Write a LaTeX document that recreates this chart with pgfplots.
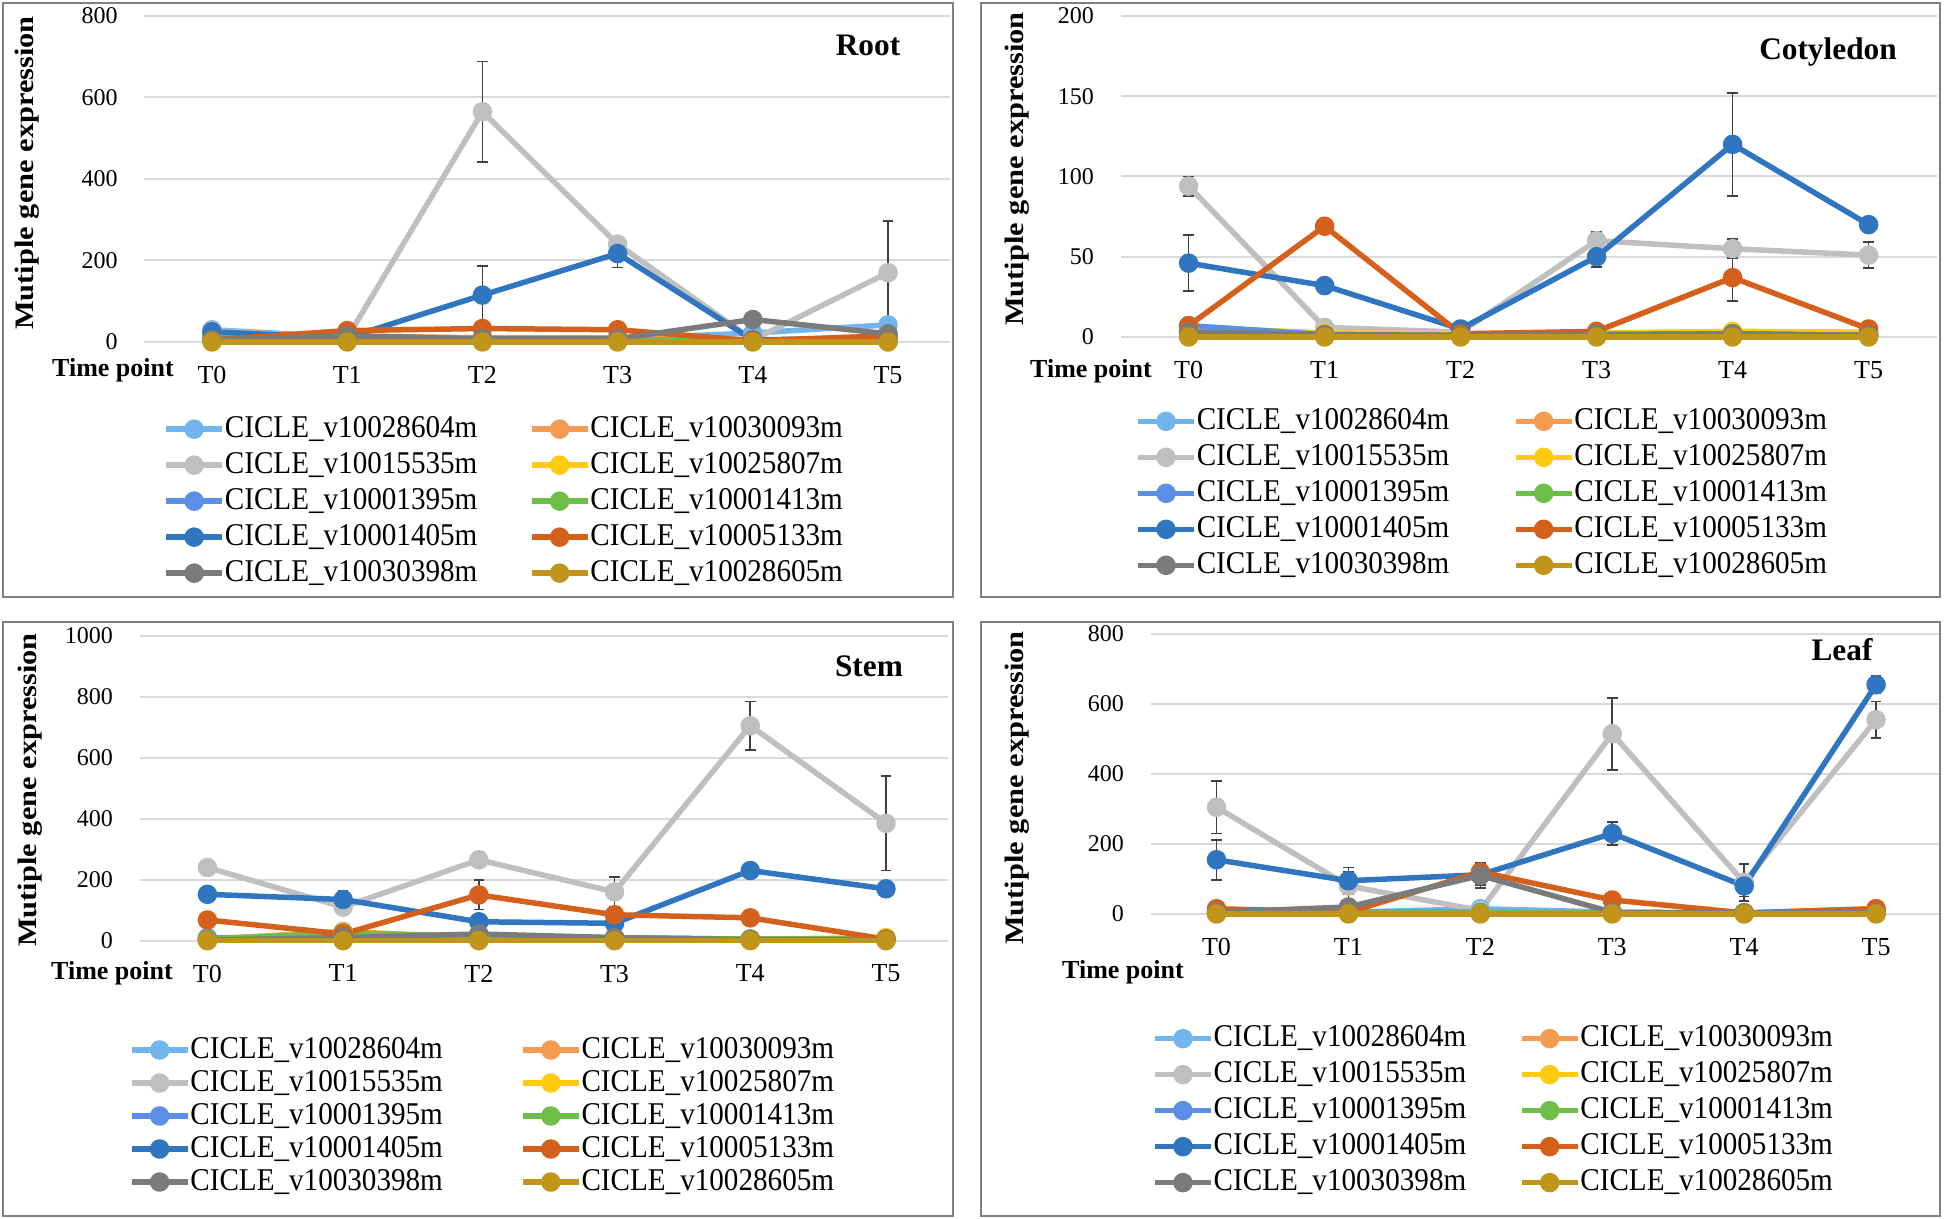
\documentclass[border=0pt]{standalone}
\usepackage{fontspec}
\setmainfont{Liberation Serif}
\newfontfamily\legfont[FakeStretch=0.92]{Liberation Serif}
\newfontfamily\ylabfont[FakeStretch=1.14]{Liberation Serif}
\usepackage{pgfplots}
\usepackage{pgfplotstable}
\pgfplotsset{compat=1.18}

\definecolor{c1}{HTML}{72B4EC}
\definecolor{c2}{HTML}{F59B52}
\definecolor{c3}{HTML}{BFBFBF}
\definecolor{c4}{HTML}{FFCB0F}
\definecolor{c5}{HTML}{5B8EE6}
\definecolor{c6}{HTML}{6EBE4A}
\definecolor{c7}{HTML}{2F75C0}
\definecolor{c8}{HTML}{D4601C}
\definecolor{c9}{HTML}{7B7B7B}
\definecolor{c10}{HTML}{C0951A}
\definecolor{gridc}{HTML}{D9D9D9}
\definecolor{framec}{HTML}{808080}

% x: time point index; s1..s10 series; e3,e7,e8,e9 error bars
\pgfplotstableread{
x s1 s2 s3 s4 s5 s6 s7 s8 s9 s10 e3 e7 e8 e9
0 30 5 28 3 20 15 25 5 5 0 8 5 2 2
1 12 15 10 2 10 5 10 28 15 0 3 3 3 2
2 10 10 565 2 8 3 115 33 8 0 123 72 5 2
3 8 10 240 2 5 3 217 30 8 0 15 34 5 2
4 22 3 5 2 3 3 5 3 55 0 3 3 1 8
5 42 15 170 2 10 3 10 15 20 0 127 3 3 3
}\rootdata

\pgfplotstableread{
x s1 s2 s3 s4 s5 s6 s7 s8 s9 s10 e3 e7 e8 e9
0 7 5 94 6 7 3 46 7 3 0 6 17.5 1 0.5
1 1.5 2 6 2.5 1.5 1 32 69 1.5 0 1 2 2 0.5
2 1 1 3 2 1 1 5 2 1 0 1 1 0.5 0.5
3 1 2 60 2.5 1.5 1 50 3.5 1.5 0 5.5 6.5 1 0.5
4 1.5 2 55 3.5 2 1 120 37 2 0 6 32 14.5 0.5
5 1 2 51 3 1 1 70 5 1 0 8 1 1 0.5
}\cotdata

\pgfplotstableread{
x s1 s2 s3 s4 s5 s6 s7 s8 s9 s10 e3 e7 e8 e9
0 10 5 240 3 8 5 152 68 2 0 5 5 5 1
1 12 30 110 3 10 25 135 22 10 0 10 28 5 2
2 10 10 265 3 8 15 62 150 22 0 25 5 48 3
3 10 8 160 3 8 10 57 85 10 0 48 5 25 2
4 5 5 705 5 5 5 230 75 3 0 79 8 20 1
5 5 5 385 10 5 5 170 5 2 0 155 8 2 1
}\stemdata

\pgfplotstableread{
x s1 s2 s3 s4 s5 s6 s7 s8 s9 s10 e3 e7 e8 e9
0 5 5 305 3 5 3 155 15 5 0 75 57 3 2
1 5 5 80 3 5 3 95 5 20 0 40 38 2 5
2 15 5 10 3 5 3 112 120 110 0 3 30 20 35
3 5 3 515 3 3 3 230 40 5 0 103 33 20 2
4 3 3 90 3 3 3 80 3 3 0 52 30 1 1
5 3 15 555 5 5 3 655 15 3 0 52 25 3 1
}\leafdata

\pgfplotsset{
  ln/.style={line width=1.65pt, mark=*, mark size=2.1pt, line join=round, mark options={solid}},
  eb/.style={/pgfplots/error bars/y dir=both, /pgfplots/error bars/y explicit,
    /pgfplots/error bars/error bar style={line width=0.5pt, color=black!75},
    /pgfplots/error bars/error mark options={rotate=90, mark size=1.6pt, line width=0.5pt, color=black!75}},
  panel/.style={
    scale only axis, anchor=south west, clip=false,
    xmin=-0.5, ymin=0,
    xtick={0,1,2,3,4,5}, xticklabels={T0,T1,T2,T3,T4,T5},
    axis line style={draw=none}, major tick length=0pt,
    ymajorgrids, grid style={line width=0.6pt, color=gridc},
    /pgf/number format/assume math mode=true,
    /pgf/number format/1000 sep={},
    yticklabel style={font=\fontsize{7.2}{8}\selectfont, xshift=-4.5pt},
    xticklabel style={font=\fontsize{7.8}{9}\selectfont, yshift=-3.7pt},
    legend columns=2,
    legend cell align=left,
    legend image code/.code={\draw[##1, mark repeat=2, mark phase=2] plot coordinates {(0pt,0pt) (8.4pt,0pt) (16.8pt,0pt)};},
  },
  leg/.style n args={4}{legend style={at={(0,0)}, anchor=north west, xshift=#1, yshift=#2,
    draw=none, fill=none, inner sep=0pt, outer sep=0pt,
    font=\legfont\fontsize{9.5}{10}\selectfont,
    nodes={inner sep=0pt, text height=6.8pt, text depth=2pt},
    row sep=#4,
    /tikz/every odd column/.append style={column sep=0pt},
    /tikz/every even column/.append style={column sep=#3}}},
}

\newcommand{\tenplots}[1]{%
  \addplot[ln, color=c1] table[x=x, y=s1] {#1}; \addlegendentry{CICLE\_v10028604m}
  \addplot[ln, color=c2] table[x=x, y=s2] {#1}; \addlegendentry{CICLE\_v10030093m}
  \addplot[ln, color=c3, eb] table[x=x, y=s3, y error=e3] {#1}; \addlegendentry{CICLE\_v10015535m}
  \addplot[ln, color=c4] table[x=x, y=s4] {#1}; \addlegendentry{CICLE\_v10025807m}
  \addplot[ln, color=c5] table[x=x, y=s5] {#1}; \addlegendentry{CICLE\_v10001395m}
  \addplot[ln, color=c6] table[x=x, y=s6] {#1}; \addlegendentry{CICLE\_v10001413m}
  \addplot[ln, color=c7, eb] table[x=x, y=s7, y error=e7] {#1}; \addlegendentry{CICLE\_v10001405m}
  \addplot[ln, color=c8, eb] table[x=x, y=s8, y error=e8] {#1}; \addlegendentry{CICLE\_v10005133m}
  \addplot[ln, color=c9, eb] table[x=x, y=s9, y error=e9] {#1}; \addlegendentry{CICLE\_v10030398m}
  \addplot[ln, color=c10] table[x=x, y=s10] {#1}; \addlegendentry{CICLE\_v10028605m}
}

\begin{document}
\begin{tikzpicture}
\useasboundingbox (0,0) rectangle (583.8pt,365.7pt);

% frames
\draw[line width=0.7pt, framec] (0.9pt,186.6pt) rectangle (285.9pt,364.8pt);
\draw[line width=0.7pt, framec] (294.3pt,186.6pt) rectangle (582pt,364.8pt);
\draw[line width=0.7pt, framec] (0.9pt,0.9pt) rectangle (285.9pt,179.1pt);
\draw[line width=0.7pt, framec] (294.3pt,0.9pt) rectangle (582pt,179.1pt);

% Root
\begin{axis}[panel, at={(43.32pt,263.1pt)}, width=241.74pt, height=97.8pt,
  xmax=5.46, ymax=800, ytick={0,200,400,600,800},
  leg={5.7pt}{-21.75pt}{15.45pt}{2pt}]
\tenplots{\rootdata}
\end{axis}

% Cotyledon
\begin{axis}[panel, at={(336.18pt,264.6pt)}, width=244.8pt, height=96.3pt,
  xmax=5.5, ymax=200, ytick={0,50,100,150,200},
  leg={4.4pt}{-20.9pt}{19.1pt}{2pt}]
\tenplots{\cotdata}
\end{axis}

% Stem
\begin{axis}[panel, at={(41.87pt,83.49pt)}, width=242.64pt, height=91.5pt,
  xmax=5.46, ymax=1000, ytick={0,200,400,600,800,1000},
  leg={-3.2pt}{-28.4pt}{23.15pt}{1.1pt}]
\tenplots{\stemdata}
\end{axis}

% Leaf
\begin{axis}[panel, at={(345.17pt,91.5pt)}, width=236.64pt, height=84pt,
  xmax=5.48, ymax=800, ytick={0,200,400,600,800},
  leg={0.5pt}{-33pt}{15.8pt}{2pt}]
\tenplots{\leafdata}
\end{axis}

% titles
\node[font=\bfseries\fontsize{9.4}{10}\selectfont] at (260.4pt,352.2pt) {Root};
\node[font=\bfseries\fontsize{9.4}{10}\selectfont] at (548.4pt,350.1pt) {Cotyledon};
\node[font=\bfseries\fontsize{9.4}{10}\selectfont] at (260.7pt,165.9pt) {Stem};
\node[font=\bfseries\fontsize{9.4}{10}\selectfont] at (552.6pt,170.7pt) {Leaf};

% x axis captions
\node[font=\bfseries\fontsize{7.8}{9}\selectfont] at (33.9pt,254.5pt) {Time point};
\node[font=\bfseries\fontsize{7.8}{9}\selectfont] at (327.3pt,254.2pt) {Time point};
\node[font=\bfseries\fontsize{7.8}{9}\selectfont] at (33.6pt,73.8pt) {Time point};
\node[font=\bfseries\fontsize{7.8}{9}\selectfont] at (336.9pt,74.1pt) {Time point};

% y axis captions
\node[rotate=90, font=\ylabfont\bfseries\fontsize{8}{9}\selectfont] at (8.1pt,313.8pt) {Mutiple gene expression};
\node[rotate=90, font=\ylabfont\bfseries\fontsize{8}{9}\selectfont] at (305.1pt,315pt) {Mutiple gene expression};
\node[rotate=90, font=\ylabfont\bfseries\fontsize{8}{9}\selectfont] at (9pt,128.7pt) {Mutiple gene expression};
\node[rotate=90, font=\ylabfont\bfseries\fontsize{8}{9}\selectfont] at (305.1pt,129.3pt) {Mutiple gene expression};
\end{tikzpicture}
\end{document}
